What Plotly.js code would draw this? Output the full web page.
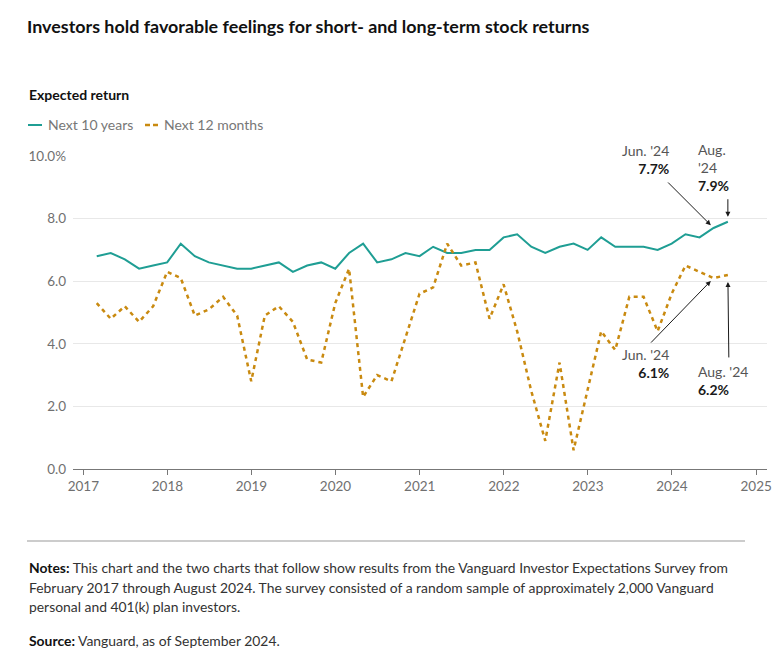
<!DOCTYPE html>
<html>
<head>
<meta charset="utf-8">
<script src="https://cdn.plot.ly/plotly-3.0.1.min.js"></script>
<style>
  html, body { margin: 0; padding: 0; background: #ffffff; }
  #chart { width: 780px; height: 655px; }
</style>
</head>
<body>
<div id="chart"></div>
<script>
// Survey dates (end of month, bimonthly)
const surveyDates = [
  '2017-02-28','2017-04-30','2017-06-30','2017-08-31','2017-10-31','2017-12-31',
  '2018-02-28','2018-04-30','2018-06-30','2018-08-31','2018-10-31','2018-12-31',
  '2019-02-28','2019-04-30','2019-06-30','2019-08-31','2019-10-31','2019-12-31',
  '2020-02-29','2020-04-30','2020-06-30','2020-08-31','2020-10-31','2020-12-31',
  '2021-02-28','2021-04-30','2021-06-30','2021-08-31','2021-10-31','2021-12-31',
  '2022-02-28','2022-04-30','2022-06-30','2022-08-31','2022-10-31','2022-12-31',
  '2023-02-28','2023-04-30','2023-06-30','2023-08-31','2023-10-31','2023-12-31',
  '2024-02-29','2024-04-30','2024-06-30','2024-08-31'
];

// Expected return, next 10 years (%)
const next10Years = [
  6.8, 6.9, 6.7, 6.4, 6.5, 6.6,
  7.2, 6.8, 6.6, 6.5, 6.4, 6.4,
  6.5, 6.6, 6.3, 6.5, 6.6, 6.4,
  6.9, 7.2, 6.6, 6.7, 6.9, 6.8,
  7.1, 6.9, 6.9, 7.0, 7.0, 7.4,
  7.5, 7.1, 6.9, 7.1, 7.2, 7.0,
  7.4, 7.1, 7.1, 7.1, 7.0, 7.2,
  7.5, 7.4, 7.7, 7.9
];

// Expected return, next 12 months (%)
const next12Months = [
  5.3, 4.8, 5.2, 4.7, 5.2, 6.3,
  6.1, 4.9, 5.1, 5.5, 4.9, 2.8,
  4.9, 5.2, 4.7, 3.5, 3.4, 5.3,
  6.4, 2.3, 3.0, 2.8, 4.2, 5.6,
  5.8, 7.2, 6.5, 6.6, 4.8, 5.9,
  4.4, 2.5, 0.9, 3.4, 0.6, 2.5,
  4.4, 3.8, 5.5, 5.5, 4.4, 5.6,
  6.5, 6.3, 6.1, 6.2
];

const yTickVals = [0, 2, 4, 6, 8, 10];
const yTickText = ['0.0', '2.0', '4.0', '6.0', '8.0', '10.0%'];
const xTickVals = ['2017-01-01','2018-01-01','2019-01-01','2020-01-01','2021-01-01','2022-01-01','2023-01-01','2024-01-01','2025-01-01'];
const xTickText = ['2017','2018','2019','2020','2021','2022','2023','2024','2025'];

const seriesNames = ['Next 10 years', 'Next 12 months'];
const TEAL = '#1f9e94';
const GOLD = '#c98a10';
const FONT = 'Lato, "Open Sans", sans-serif';

// plot area in pixels: left 73, right 767, top 156, bottom 469
const px = v => (v - 73) / 694;
const py = v => (469 - v) / 313;

const n = surveyDates.length;
const lastDate = surveyDates[n - 1];
const junDate = surveyDates[n - 2];

const traces = [
  {
    x: surveyDates, y: next10Years, name: seriesNames[0],
    type: 'scatter', mode: 'lines',
    line: { color: TEAL, width: 2 },
    hoverinfo: 'skip'
  },
  {
    x: surveyDates, y: next12Months, name: seriesNames[1],
    type: 'scatter', mode: 'lines',
    line: { color: GOLD, width: 2.5, dash: '4px,4px' },
    hoverinfo: 'skip'
  }
];

const arrowCommon = { showarrow: true, text: '', arrowhead: 2, arrowsize: 1, arrowwidth: 1, arrowcolor: '#1a1a1a', axref: 'pixel', ayref: 'pixel' };
const labelFont = { family: FONT, size: 14, color: '#555' };
const notesFont = { family: FONT, size: 13.9, color: '#333' };

const annotations = [
  // arrows
  Object.assign({ x: junDate, y: next10Years[n - 2], ax: -47, ay: -47, standoff: 4 }, arrowCommon),
  Object.assign({ x: lastDate, y: next10Years[n - 1], ax: 0, ay: -24, standoff: 5 }, arrowCommon),
  Object.assign({ x: junDate, y: next12Months[n - 2], ax: -64, ay: 66, standoff: 4 }, arrowCommon),
  Object.assign({ x: lastDate, y: next12Months[n - 1], ax: 1, ay: 84, standoff: 7 }, arrowCommon),
  // labels
  { x: junDate, y: next10Years[n - 2], showarrow: false, xanchor: 'right', yanchor: 'bottom', align: 'right',
    xshift: -43, yshift: 49, font: labelFont,
    text: "Jun. '24<br><b style='color:#1a1a1a'>" + next10Years[n - 2].toFixed(1) + "%</b>" },
  { x: lastDate, y: next10Years[n - 1], showarrow: false, xanchor: 'left', yanchor: 'bottom', align: 'left',
    xshift: -32, yshift: 26, font: labelFont,
    text: "Aug.<br>'24<br><b style='color:#1a1a1a'>" + next10Years[n - 1].toFixed(1) + "%</b>" },
  { x: junDate, y: next12Months[n - 2], showarrow: false, xanchor: 'right', yanchor: 'top', align: 'right',
    xshift: -43, yshift: -66, font: labelFont,
    text: "Jun. '24<br><b style='color:#1a1a1a'>" + next12Months[n - 2].toFixed(1) + "%</b>" },
  { x: lastDate, y: next12Months[n - 1], showarrow: false, xanchor: 'left', yanchor: 'top', align: 'left',
    xshift: -32, yshift: -86, font: labelFont,
    text: "Aug. '24<br><b style='color:#1a1a1a'>" + next12Months[n - 1].toFixed(1) + "%</b>" },
  // subtitle
  { xref: 'paper', yref: 'paper', x: px(27), y: py(94), xanchor: 'left', yanchor: 'middle',
    showarrow: false, text: '<b>Expected return</b>', font: { family: FONT, size: 14, color: '#111' } },
  // legend texts
  { xref: 'paper', yref: 'paper', x: px(46), y: py(125), xanchor: 'left', yanchor: 'middle',
    showarrow: false, text: seriesNames[0], font: { family: FONT, size: 14, color: '#777' } },
  { xref: 'paper', yref: 'paper', x: px(162), y: py(125), xanchor: 'left', yanchor: 'middle',
    showarrow: false, text: seriesNames[1], font: { family: FONT, size: 14, color: '#777' } },
  // notes
  { xref: 'paper', yref: 'paper', x: px(27), y: py(567), xanchor: 'left', yanchor: 'middle', showarrow: false,
    font: notesFont,
    text: '<b style="color:#111">Notes:</b> This chart and the two charts that follow show results from the Vanguard Investor Expectations Survey from' },
  { xref: 'paper', yref: 'paper', x: px(27), y: py(587), xanchor: 'left', yanchor: 'middle', showarrow: false,
    font: notesFont,
    text: 'February 2017 through August 2024. The survey consisted of a random sample of approximately 2,000 Vanguard' },
  { xref: 'paper', yref: 'paper', x: px(27), y: py(606), xanchor: 'left', yanchor: 'middle', showarrow: false,
    font: notesFont,
    text: 'personal and 401(k) plan investors.' },
  { xref: 'paper', yref: 'paper', x: px(27), y: py(640), xanchor: 'left', yanchor: 'middle', showarrow: false,
    font: notesFont,
    text: '<b style="color:#111">Source:</b> Vanguard, as of September 2024.' }
];

const layout = {
  width: 780, height: 655,
  margin: { l: 73, r: 13, t: 156, b: 186, pad: 0 },
  paper_bgcolor: '#ffffff', plot_bgcolor: '#ffffff',
  font: { family: FONT, color: '#666' },
  title: {
    text: '<b>Investors hold favorable feelings for short- and long-term stock returns</b>',
    x: 27 / 780, xref: 'container', xanchor: 'left',
    y: 1 - 27 / 655, yref: 'container', yanchor: 'middle',
    font: { family: FONT, size: 17.9, color: '#111' }
  },
  showlegend: false,
  xaxis: {
    type: 'date',
    range: ['2016-11-17', '2025-02-17'],
    tickvals: xTickVals, ticktext: xTickText,
    showgrid: false, zeroline: false,
    showline: true, linecolor: '#777', linewidth: 1,
    ticks: 'outside', ticklen: 5, tickcolor: '#777', tickwidth: 1,
    tickfont: { family: FONT, size: 13.5, color: '#707070' },
    fixedrange: true
  },
  yaxis: {
    range: [0, 10],
    tickvals: yTickVals, ticktext: yTickText,
    showgrid: true, gridcolor: '#e8e8e8', gridwidth: 1,
    zeroline: false, showline: false, ticks: '',
    ticklabelstandoff: 6,
    tickfont: { family: FONT, size: 13.5, color: '#707070' },
    fixedrange: true
  },
  shapes: [
    { type: 'line', xref: 'paper', yref: 'paper', x0: px(27), x1: px(745),
      y0: py(541), y1: py(541), line: { color: '#cccccc', width: 2 } },
    // legend samples
    { type: 'line', xref: 'paper', yref: 'paper', x0: px(28), x1: px(42),
      y0: py(125), y1: py(125), line: { color: TEAL, width: 2 } },
    { type: 'line', xref: 'paper', yref: 'paper', x0: px(145), x1: px(158),
      y0: py(125), y1: py(125), line: { color: GOLD, width: 2.5, dash: '5px,3px' } }
  ],
  annotations: annotations
};

Plotly.newPlot('chart', traces, layout, { displayModeBar: false, staticPlot: true });
</script>
</body>
</html>
